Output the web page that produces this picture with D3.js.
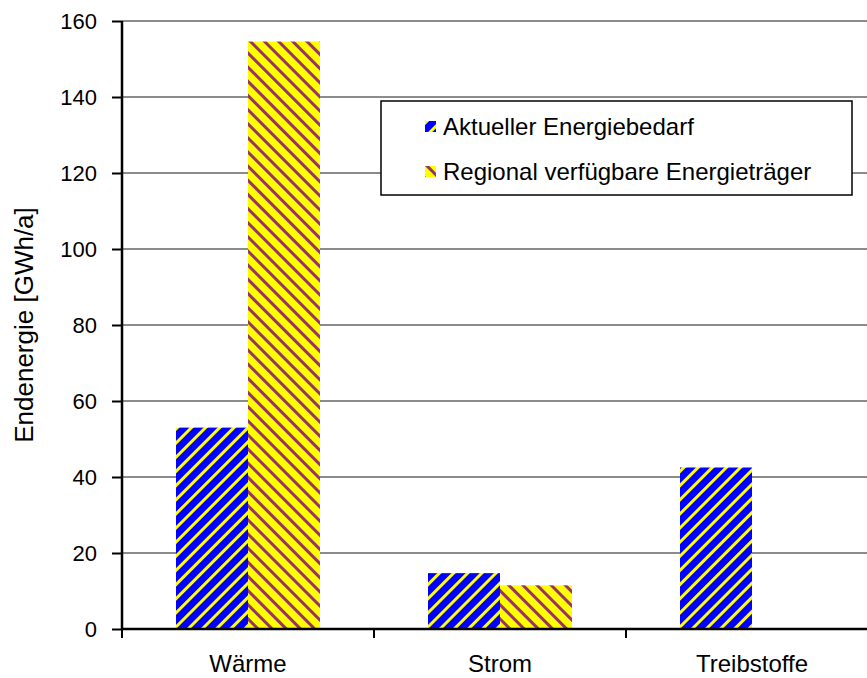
<!DOCTYPE html>
<html>
<head>
<meta charset="utf-8">
<script src="https://cdn.jsdelivr.net/npm/d3@7"></script>
<style>
  body { margin: 0; background: #fff; }
  text { font-family: "Liberation Sans", Arial, sans-serif; fill: #000; }
</style>
</head>
<body>
<svg id="chart" width="867" height="678"></svg>
<script>
// data
var categories = ["Wärme", "Strom", "Treibstoffe"];
var seriesNames = ["Aktueller Energiebedarf", "Regional verfügbare Energieträger"];
var aktuell = [53, 14.7, 42.5];
var regional = [154.6, 11.5, 0];
var yTicks = [0, 20, 40, 60, 80, 100, 120, 140, 160];
var yTitle = "Endenergie [GWh/a]";

var svg = d3.select('#chart');
var pLeft = 122, pRight = 878, pTop = 21, pBottom = 629;

var x0 = d3.scaleBand().domain(categories).range([pLeft, pRight]).padding(0);
var x1 = d3.scaleBand().domain(seriesNames).range([0, x0.bandwidth()])
  .paddingInner(0).paddingOuter(0.75);
var y = d3.scaleLinear().domain([0, 160]).range([pBottom, pTop]);

// patterns
var defs = svg.append('defs');
var p1 = defs.append('pattern').attr('id', 'patBlue')
  .attr('patternUnits', 'userSpaceOnUse')
  .attr('width', 10).attr('height', 10)
  .attr('patternTransform', 'rotate(45)');
p1.append('rect').attr('width', 10).attr('height', 10).attr('fill', '#0000ff');
p1.append('rect').attr('width', 3).attr('height', 10).attr('fill', '#ffff00');

var p2 = defs.append('pattern').attr('id', 'patYellow')
  .attr('patternUnits', 'userSpaceOnUse')
  .attr('width', 10).attr('height', 10)
  .attr('patternTransform', 'rotate(-45)');
p2.append('rect').attr('width', 10).attr('height', 10).attr('fill', '#ffff00');
p2.append('rect').attr('width', 3).attr('height', 10).attr('fill', '#993366');

var fills = ['url(#patBlue)', 'url(#patYellow)'];

// gridlines
svg.append('g').selectAll('line')
  .data(yTicks.filter(function(d){ return d > 0; }))
  .enter().append('line')
  .attr('x1', pLeft).attr('x2', pRight)
  .attr('y1', function(d){ return y(d); })
  .attr('y2', function(d){ return y(d); })
  .style('stroke', '#8c8c8c')
  .style('stroke-width', 2);

// bars
var rows = categories.map(function(c, i){
  return [
    {cat: c, s: seriesNames[0], v: aktuell[i], k: 0},
    {cat: c, s: seriesNames[1], v: regional[i], k: 1}
  ];
});
svg.append('g').selectAll('g')
  .data(rows)
  .enter().append('g')
  .attr('transform', function(d){ return 'translate(' + x0(d[0].cat) + ',0)'; })
  .selectAll('rect')
  .data(function(d){ return d.filter(function(e){ return e.v > 0; }); })
  .enter().append('rect')
  .attr('x', function(d){ return x1(d.s); })
  .attr('width', x1.bandwidth())
  .attr('y', function(d){ return y(d.v); })
  .attr('height', function(d){ return y(0) - y(d.v); })
  .style('fill', function(d){ return fills[d.k]; });

// y axis
var yAxis = svg.append('g')
  .attr('transform', 'translate(' + pLeft + ',0)')
  .call(d3.axisLeft(y).tickValues(yTicks).tickSize(10).tickPadding(15));
yAxis.select('.domain').style('stroke', '#000').style('stroke-width', 2.5)
  .attr('d', 'M0,' + pTop + 'V' + pBottom);
yAxis.selectAll('.tick line').style('stroke', '#000').style('stroke-width', 2);
yAxis.selectAll('.tick text').style('font-size', '22px').style('font-family', '"Liberation Sans", Arial, sans-serif');

// x axis
var xAxis = svg.append('g')
  .attr('transform', 'translate(0,' + pBottom + ')')
  .call(d3.axisBottom(x0).tickSize(0).tickPadding(26));
xAxis.select('.domain').style('stroke', '#000').style('stroke-width', 2.5)
  .attr('d', 'M' + pLeft + ',0H' + pRight);
xAxis.selectAll('.tick text').style('font-size', '24px').style('font-family', '"Liberation Sans", Arial, sans-serif');
svg.append('g').selectAll('line')
  .data(categories.concat(['end']))
  .enter().append('line')
  .attr('x1', function(d, i){ return pLeft + i * x0.step(); })
  .attr('x2', function(d, i){ return pLeft + i * x0.step(); })
  .attr('y1', pBottom).attr('y2', pBottom + 9)
  .style('stroke', '#000').style('stroke-width', 2);

// y title
svg.append('text')
  .attr('transform', 'translate(33,' + ((pTop + pBottom) / 2) + ') rotate(-90)')
  .attr('text-anchor', 'middle')
  .style('font-size', '26px')
  .text(yTitle);

// legend
var lg = svg.append('g').attr('transform', 'translate(381,101)');
lg.append('rect').attr('width', 471).attr('height', 94)
  .style('fill', '#fff').style('stroke', '#000').style('stroke-width', 1.5);
var item = lg.selectAll('.item').data(seriesNames).enter().append('g')
  .attr('class', 'item')
  .attr('transform', function(d, i){ return 'translate(44,' + (20 + i * 45) + ')'; });
item.append('rect').attr('width', 11).attr('height', 11)
  .style('fill', function(d, i){ return fills[i]; });
item.append('text').attr('x', 18).attr('y', 6).attr('dy', '0.35em')
  .style('font-size', '24px')
  .text(function(d){ return d; });
</script>
</body>
</html>
